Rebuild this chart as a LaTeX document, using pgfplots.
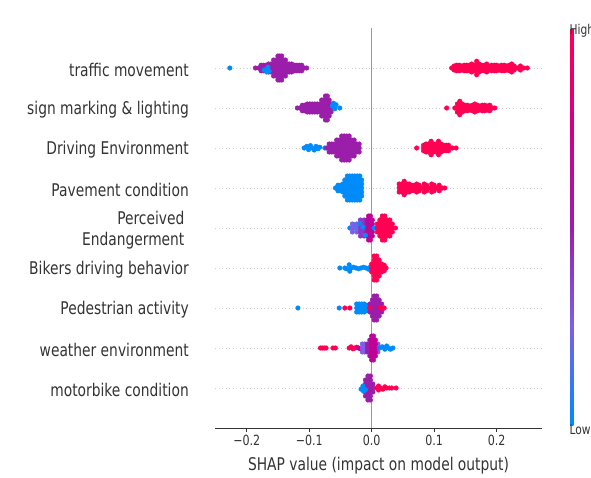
\documentclass[border=0pt]{standalone}
\usepackage{fontspec}
\setmainfont{DejaVu Sans}[FakeStretch=0.79]
\usepackage{pgfplots}
\pgfplotsset{compat=1.18}
\usetikzlibrary{calc}
\definecolor{c333}{HTML}{333333}
\definecolor{gridc}{HTML}{CCCCCC}
\definecolor{zeroc}{HTML}{999999}
\definecolor{shapBlue}{RGB}{0,139,251}
\definecolor{shapLav}{RGB}{125,95,230}
\definecolor{shapVio}{RGB}{140,55,200}
\definecolor{shapPurple}{RGB}{155,30,170}
\definecolor{shapMag}{RGB}{195,0,150}
\definecolor{shapRed}{RGB}{255,0,82}
\pgfplotsset{dot/.style={only marks, mark=*, mark size=2.3pt, line width=0.4pt}}
\begin{document}
\begin{tikzpicture}
\useasboundingbox (0,0) rectangle (591pt,477pt);
\begin{axis}[
  name=main,
  at={(215pt,49pt)}, anchor=south west,
  width=327pt, height=400pt, scale only axis,
  xmin=-0.2507, xmax=0.2725, ymin=0, ymax=10,
  axis x line*=bottom, axis y line*=left,
  y axis line style={draw=none},
  x axis line style={c333, line width=0.8pt},
  xtick={-0.2,-0.1,0,0.1,0.2},
  xticklabels={−0.2,−0.1,0.0,0.1,0.2},
  xtick style={c333, line width=0.8pt},
  major tick length=4pt, tick align=outside,
  ytick={1,2,3,4,5,6,7,8,9},
  yticklabels={motorbike condition, weather environment, Pedestrian activity, Bikers driving behavior, {Perceived\hspace*{4.4pt}\\Endangerment\hspace*{4.4pt}}, Pavement condition, Driving Environment, sign marking \& lighting, traffic movement},
  ytick style={draw=none},
  ymajorgrids, grid style={gridc, line width=0.7pt, dash pattern=on 1pt off 2.5pt},
  xticklabel style={font=\fontsize{14}{16}\selectfont, text=c333},
  yticklabel style={font=\fontsize{17.5}{20.5}\selectfont, text=c333, anchor=east, inner sep=0pt, xshift=-22pt, yshift=-2pt, align=right},
  xlabel={SHAP value (impact on model output)},
  xlabel style={font=\fontsize{17.5}{20}\selectfont, text=c333, at={(axis description cs:0.5,0)}, anchor=center, yshift=-37.5pt},
  colormap={shap}{rgb255(0cm)=(0,139,251); rgb255(1cm)=(125,95,230); rgb255(2cm)=(155,30,170); rgb255(3cm)=(205,0,140); rgb255(4cm)=(255,0,82)},
  point meta min=0, point meta max=1,
  colorbar,
  colorbar style={at={($(parent axis.south east)+(19.5pt,3pt)$)}, anchor=south west, width=3.3pt, height=397pt, scale only axis, hide axis},
]
\addplot[zeroc, line width=1.2pt] coordinates {(0,0) (0,10)};
% ---- traffic movement (9)
\addplot[dot, shapPurple] coordinates {
(-0.186,9)(-0.181,9)
(-0.177,9)(-0.177,8.93)(-0.177,9.07)
(-0.173,9)(-0.173,8.93)(-0.173,9.07)
(-0.169,9)(-0.169,8.93)(-0.169,9.07)
(-0.165,9)(-0.165,8.9)(-0.165,9.1)
(-0.161,9)(-0.161,8.9)(-0.161,9.1)
(-0.157,9)(-0.157,8.9)(-0.157,9.1)(-0.157,8.8)(-0.157,9.2)
(-0.153,9)(-0.153,8.9)(-0.153,9.1)(-0.153,8.8)(-0.153,9.2)
(-0.150,9)(-0.150,8.9)(-0.150,9.1)(-0.150,8.8)(-0.150,9.2)(-0.150,8.7)(-0.150,9.3)
(-0.147,9)(-0.147,8.9)(-0.147,9.1)(-0.147,8.8)(-0.147,9.2)(-0.147,8.7)(-0.147,9.3)
(-0.144,9)(-0.144,8.9)(-0.144,9.1)(-0.144,8.8)(-0.144,9.2)(-0.144,8.7)(-0.144,9.3)
(-0.141,9)(-0.141,8.9)(-0.141,9.1)(-0.141,8.8)(-0.141,9.2)
(-0.138,9)(-0.138,8.9)(-0.138,9.1)(-0.138,8.8)(-0.138,9.2)
(-0.135,9)(-0.135,8.9)(-0.135,9.1)
(-0.132,9)(-0.132,8.9)(-0.132,9.1)
(-0.128,9)(-0.128,8.9)(-0.128,9.1)
(-0.124,9)(-0.124,8.93)(-0.124,9.07)
(-0.120,9)(-0.120,8.93)(-0.120,9.07)
(-0.116,9)(-0.116,8.93)(-0.116,9.07)
(-0.112,9)(-0.112,8.93)(-0.112,9.07)
(-0.108,9)(-0.104,9)};
\addplot[dot, shapBlue] coordinates {(-0.227,9)(-0.172,8.95)(-0.168,8.9)(-0.166,9.02)(-0.164,8.92)};
\addplot[dot, shapRed] coordinates {
(0.128,9)
(0.132,9)(0.132,8.95)(0.132,9.05)
(0.136,9)(0.136,8.93)(0.136,9.07)
(0.140,9)(0.140,8.93)(0.140,9.07)
(0.144,9)(0.144,8.95)(0.144,9.05)
(0.148,9)(0.148,8.93)(0.148,9.07)
(0.152,9)(0.152,8.93)(0.152,9.07)
(0.156,9)(0.156,8.93)(0.156,9.07)
(0.160,9)(0.160,8.9)(0.160,9.1)
(0.164,9)(0.164,8.93)(0.164,9.07)
(0.168,9)(0.168,8.9)(0.168,9.1)(0.168,8.83)(0.168,9.17)
(0.172,9)(0.172,8.9)(0.172,9.1)
(0.176,9)(0.176,8.93)(0.176,9.07)
(0.180,9)(0.180,8.93)(0.180,9.07)
(0.184,9)(0.184,8.9)(0.184,9.1)
(0.188,9)(0.188,8.95)(0.188,9.05)
(0.192,9)(0.192,8.93)(0.192,9.07)
(0.196,9)(0.196,8.93)(0.196,9.07)
(0.200,9)(0.200,8.93)(0.200,9.07)
(0.204,9)(0.204,8.95)(0.204,9.05)
(0.208,9)(0.208,8.93)(0.208,9.07)
(0.212,9)(0.212,8.93)(0.212,9.07)
(0.216,9)(0.216,8.95)(0.216,9.05)
(0.220,9)(0.220,8.93)(0.220,9.07)
(0.224,9)(0.224,8.9)(0.224,9.1)
(0.228,9)(0.228,8.95)(0.228,9.05)
(0.233,9)
(0.238,9)(0.238,8.95)(0.238,9.05)
(0.243,9)(0.249,9)};
% ---- sign marking & lighting (8)
\addplot[dot, shapPurple] coordinates {
(-0.119,8)(-0.115,8)
(-0.111,8)(-0.111,7.93)(-0.111,8.07)
(-0.107,8)(-0.107,7.93)(-0.107,8.07)
(-0.103,8)(-0.103,7.9)(-0.103,8.1)
(-0.099,8)(-0.099,7.9)(-0.099,8.1)
(-0.095,8)(-0.095,7.9)(-0.095,8.1)
(-0.091,8)(-0.091,7.9)(-0.091,8.1)
(-0.087,8)(-0.087,7.9)(-0.087,8.1)
(-0.083,8)(-0.083,7.9)(-0.083,8.1)
(-0.080,8)(-0.080,7.9)(-0.080,8.1)(-0.080,7.8)(-0.080,8.2)
(-0.077,8)(-0.077,7.9)(-0.077,8.1)(-0.077,7.8)(-0.077,8.2)
(-0.074,8)(-0.074,7.9)(-0.074,8.1)(-0.074,7.8)(-0.074,8.2)(-0.074,7.7)(-0.074,8.3)
(-0.071,8)(-0.071,7.9)(-0.071,8.1)(-0.071,7.8)(-0.071,8.2)(-0.071,7.7)(-0.071,8.3)
(-0.068,8)(-0.068,7.9)(-0.068,8.1)(-0.068,7.8)(-0.068,8.2)
(-0.065,8)(-0.065,7.9)(-0.065,8.1)};
\addplot[dot, shapBlue] coordinates {(-0.063,8.05)(-0.061,8.12)(-0.059,7.98)(-0.057,8.08)(-0.051,8)};
\addplot[dot, shapRed] coordinates {
(0.120,8)(0.133,8)
(0.137,8)(0.137,7.9)(0.137,8.1)
(0.141,8)(0.141,7.9)(0.141,8.1)(0.141,7.83)(0.141,8.17)
(0.145,8)(0.145,7.9)(0.145,8.1)
(0.149,8)(0.149,7.93)(0.149,8.07)
(0.153,8)(0.153,7.93)(0.153,8.07)
(0.157,8)(0.157,7.95)(0.157,8.05)
(0.161,8)(0.161,7.93)(0.161,8.07)
(0.165,8)(0.165,7.9)(0.165,8.1)
(0.169,8)(0.169,7.93)(0.169,8.07)
(0.173,8)(0.173,7.95)(0.173,8.05)
(0.177,8)(0.177,7.93)(0.177,8.07)
(0.181,8)(0.181,7.93)(0.181,8.07)
(0.185,8)(0.185,7.95)(0.185,8.05)
(0.189,8)(0.189,7.93)(0.189,8.07)
(0.193,8)(0.197,8)};
% ---- Driving Environment (7)
\addplot[dot, shapBlue] coordinates {(-0.108,7)(-0.104,7.04)(-0.101,6.96)(-0.098,7.06)(-0.095,7)(-0.092,6.95)(-0.089,7.04)(-0.086,6.98)(-0.083,7.02)(-0.075,7)};
\addplot[dot, shapPurple] coordinates {
(-0.072,7)
(-0.068,7)(-0.068,6.9)(-0.068,7.1)
(-0.064,7)(-0.064,6.9)(-0.064,7.1)
(-0.060,7)(-0.060,6.9)(-0.060,7.1)
(-0.056,7)(-0.056,6.9)(-0.056,7.1)(-0.056,6.8)(-0.056,7.2)
(-0.052,7)(-0.052,6.9)(-0.052,7.1)(-0.052,6.8)(-0.052,7.2)
(-0.048,7)(-0.048,6.9)(-0.048,7.1)(-0.048,6.8)(-0.048,7.2)(-0.048,6.7)(-0.048,7.3)
(-0.044,7)(-0.044,6.9)(-0.044,7.1)(-0.044,6.8)(-0.044,7.2)(-0.044,6.7)(-0.044,7.3)
(-0.040,7)(-0.040,6.9)(-0.040,7.1)(-0.040,6.8)(-0.040,7.2)(-0.040,6.7)(-0.040,7.3)
(-0.036,7)(-0.036,6.9)(-0.036,7.1)(-0.036,6.8)(-0.036,7.2)(-0.036,6.7)(-0.036,7.3)
(-0.032,7)(-0.032,6.9)(-0.032,7.1)(-0.032,6.8)(-0.032,7.2)
(-0.028,7)(-0.028,6.9)(-0.028,7.1)(-0.028,6.8)(-0.028,7.2)
(-0.024,7)(-0.024,6.9)(-0.024,7.1)
(-0.020,7)(-0.020,6.9)(-0.020,7.1)};
\addplot[dot, shapRed] coordinates {
(0.072,7)
(0.083,7)(0.083,6.93)(0.083,7.07)
(0.087,7)(0.087,6.9)(0.087,7.1)
(0.091,7)(0.091,6.9)(0.091,7.1)
(0.095,7)(0.095,6.9)(0.095,7.1)(0.095,6.83)(0.095,7.17)
(0.099,7)(0.099,6.9)(0.099,7.1)
(0.103,7)(0.103,6.9)(0.103,7.1)
(0.107,7)(0.107,6.9)(0.107,7.1)(0.107,6.83)(0.107,7.17)
(0.111,7)(0.111,6.9)(0.111,7.1)
(0.115,7)(0.115,6.93)(0.115,7.07)
(0.119,7)(0.119,6.93)(0.119,7.07)
(0.123,7)(0.123,6.93)(0.123,7.07)
(0.129,7)(0.135,7)};
% ---- Pavement condition (6)
\addplot[dot, shapBlue] coordinates {
(-0.058,6)
(-0.054,6)(-0.054,5.93)(-0.054,6.07)
(-0.050,6)(-0.050,5.93)(-0.050,6.07)
(-0.046,6)(-0.046,5.9)(-0.046,6.1)
(-0.043,6)(-0.043,5.9)(-0.043,6.1)(-0.043,5.8)(-0.043,6.2)
(-0.039,6)(-0.039,5.9)(-0.039,6.1)(-0.039,5.8)(-0.039,6.2)(-0.039,5.7)(-0.039,6.3)
(-0.035,6)(-0.035,5.9)(-0.035,6.1)(-0.035,5.8)(-0.035,6.2)(-0.035,5.7)(-0.035,6.3)
(-0.031,6)(-0.031,5.9)(-0.031,6.1)(-0.031,5.8)(-0.031,6.2)(-0.031,5.7)(-0.031,6.3)
(-0.027,6)(-0.027,5.9)(-0.027,6.1)(-0.027,5.8)(-0.027,6.2)(-0.027,5.7)(-0.027,6.3)
(-0.023,6)(-0.023,5.9)(-0.023,6.1)(-0.023,5.8)(-0.023,6.2)(-0.023,5.7)(-0.023,6.3)
(-0.019,6)(-0.019,5.9)(-0.019,6.1)(-0.019,5.8)(-0.019,6.2)(-0.019,5.7)(-0.019,6.3)
(-0.016,6)(-0.016,5.9)(-0.016,6.1)(-0.016,5.8)(-0.016,6.2)};
\addplot[dot, shapRed] coordinates {
(0.044,6)(0.044,5.9)(0.044,6.1)
(0.048,6)(0.048,5.9)(0.048,6.1)
(0.052,6)(0.052,5.9)(0.052,6.1)(0.052,5.83)(0.052,6.17)
(0.056,6)(0.056,5.9)(0.056,6.1)
(0.060,6)(0.060,5.9)(0.060,6.1)
(0.064,6)(0.064,5.93)(0.064,6.07)
(0.068,6)(0.068,5.93)(0.068,6.07)
(0.072,6)(0.072,5.9)(0.072,6.1)
(0.076,6)(0.076,5.93)(0.076,6.07)
(0.080,6)
(0.084,6)(0.084,5.9)(0.084,6.1)
(0.088,6)(0.088,5.93)(0.088,6.07)
(0.092,6)
(0.096,6)(0.096,5.9)(0.096,6.1)
(0.100,6)(0.100,5.93)(0.100,6.07)
(0.104,6)
(0.108,6)(0.108,5.93)(0.108,6.07)
(0.113,6)(0.117,6)};
% ---- Perceived Endangerment (5)
\addplot[dot, shapBlue] coordinates {(-0.035,5)(-0.028,5)(-0.027,5.08)(-0.021,5)(-0.021,4.93)};
\addplot[dot, shapLav] coordinates {(-0.031,5)(-0.031,4.9)(-0.031,5.1)(-0.024,5)(-0.024,4.9)(-0.024,5.1)(-0.015,5)(-0.015,4.9)(-0.015,5.1)};
\addplot[dot, shapVio] coordinates {(-0.018,5)(-0.018,4.9)(-0.018,5.1)(-0.018,4.8)(-0.018,5.2)(-0.012,5)(-0.012,4.9)(-0.012,5.1)(-0.012,4.8)(-0.012,5.2)};
\addplot[dot, shapPurple] coordinates {(-0.008,5)(-0.008,4.9)(-0.008,5.1)(-0.008,4.8)(-0.008,5.2)};
\addplot[dot, shapMag] coordinates {
(-0.005,5)(-0.005,4.9)(-0.005,5.1)(-0.005,4.8)(-0.005,5.2)(-0.005,4.7)(-0.005,5.3)
(-0.002,5)(-0.002,4.9)(-0.002,5.1)(-0.002,4.8)(-0.002,5.2)(-0.002,4.7)(-0.002,5.3)
(0.001,5)(0.001,4.9)(0.001,5.1)(0.001,4.8)(0.001,5.2)};
\addplot[dot, shapBlue] coordinates {(0.004,5)(-0.010,4.82)(-0.014,5.02)(-0.019,5.12)};
\addplot[dot, shapRed] coordinates {
(0.009,5)(0.009,4.9)(0.009,5.1)
(0.013,5)(0.013,4.9)(0.013,5.1)(0.013,4.8)(0.013,5.2)
(0.017,5)(0.017,4.9)(0.017,5.1)(0.017,4.8)(0.017,5.2)(0.017,4.7)(0.017,5.3)
(0.021,5)(0.021,4.9)(0.021,5.1)(0.021,4.8)(0.021,5.2)(0.021,4.7)(0.021,5.3)
(0.025,5)(0.025,4.9)(0.025,5.1)(0.025,4.8)(0.025,5.2)
(0.029,5)(0.029,4.9)(0.029,5.1)(0.029,4.8)(0.029,5.2)
(0.033,5)(0.033,4.9)(0.033,5.1)
(0.038,5)};
% ---- Bikers driving behavior (4)
\addplot[dot, shapBlue] coordinates {(-0.051,4)(-0.043,4)(-0.040,3.98)(-0.036,4.08)(-0.035,3.92)(-0.033,4)(-0.029,4.02)(-0.025,4)(-0.021,3.98)(-0.017,4)(-0.013,4.02)(-0.009,4)(-0.005,3.97)(-0.002,4.03)};
\addplot[dot, shapRed] coordinates {
(0.000,4)(0.000,3.9)(0.000,4.1)
(0.004,4)(0.004,3.9)(0.004,4.1)(0.004,3.8)(0.004,4.2)(0.004,3.7)(0.004,4.3)
(0.008,4)(0.008,3.9)(0.008,4.1)(0.008,3.8)(0.008,4.2)(0.008,3.7)(0.008,4.3)
(0.012,4)(0.012,3.9)(0.012,4.1)(0.012,3.8)(0.012,4.2)
(0.016,4)(0.016,3.9)(0.016,4.1)
(0.020,4)(0.020,3.93)(0.020,4.07)
(0.023,4)};
% ---- Pedestrian activity (3)
\addplot[dot, shapBlue] coordinates {
(-0.118,3)(-0.052,3)
(-0.024,3)(-0.024,2.9)(-0.024,3.1)
(-0.020,3)(-0.020,2.9)(-0.020,3.1)
(-0.016,3)(-0.016,2.9)(-0.016,3.1)
(-0.012,3)(-0.012,2.9)(-0.012,3.1)
(-0.008,3)(-0.008,2.93)(-0.008,3.07)};
\addplot[dot, shapPurple] coordinates {
(-0.003,3)(-0.003,2.9)(-0.003,3.1)
(0.001,3)(0.001,2.9)(0.001,3.1)(0.001,2.8)(0.001,3.2)
(0.004,3)(0.004,2.9)(0.004,3.1)(0.004,2.8)(0.004,3.2)(0.004,2.7)(0.004,3.3)
(0.008,3)(0.008,2.9)(0.008,3.1)(0.008,2.8)(0.008,3.2)(0.008,2.7)(0.008,3.3)
(0.012,3)(0.012,2.9)(0.012,3.1)(0.012,2.8)(0.012,3.2)
(0.016,3)(0.016,2.9)(0.016,3.1)};
\addplot[dot, shapRed] coordinates {(-0.043,3)(-0.035,3)(-0.003,3)(0.013,3.02)(0.017,2.98)(0.020,3)};
% ---- weather environment (2)
\addplot[dot, shapRed] coordinates {(-0.082,2)(-0.079,2)(-0.076,2)(-0.073,2)(-0.062,2)(-0.058,2)(-0.036,2)(-0.033,2.03)(-0.030,1.98)(-0.027,2)(-0.024,2.02)};
\addplot[dot, shapMag] coordinates {(-0.021,2)(-0.018,1.98)};
\addplot[dot, shapLav] coordinates {
(-0.015,2)(-0.015,1.9)(-0.015,2.1)
(-0.011,2)(-0.011,1.9)(-0.011,2.1)
(0.010,2)(0.010,1.9)(0.010,2.1)};
\addplot[dot, shapPurple] coordinates {
(-0.007,2)(-0.007,1.9)(-0.007,2.1)
(-0.003,2)(-0.003,1.9)(-0.003,2.1)(-0.003,1.8)(-0.003,2.2)
(0.003,2)(0.003,1.9)(0.003,2.1)(0.003,1.8)(0.003,2.2)(0.003,1.7)(0.003,2.3)};
\addplot[dot, shapMag] coordinates {
(0.000,2)(0.000,1.9)(0.000,2.1)(0.000,1.8)(0.000,2.2)(0.000,1.7)(0.000,2.3)
(0.006,2)(0.006,1.9)(0.006,2.1)(0.006,1.8)(0.006,2.2)};
\addplot[dot, shapBlue] coordinates {(0.013,2)(0.017,2.03)(0.021,1.97)(0.024,2.05)(0.027,2)(0.030,1.97)(0.034,2)};
% ---- motorbike condition (1)
\addplot[dot, shapPurple] coordinates {
(-0.010,1)(-0.010,0.9)(-0.010,1.1)(-0.010,0.8)(-0.010,1.2)
(-0.006,1)(-0.006,0.9)(-0.006,1.1)(-0.006,0.8)(-0.006,1.2)(-0.006,0.7)(-0.006,1.3)
(-0.002,1)(-0.002,0.9)(-0.002,1.1)(-0.002,0.8)(-0.002,1.2)(-0.002,0.7)(-0.002,1.3)
(0.002,1)(0.002,0.9)(0.002,1.1)};
\addplot[dot, shapBlue] coordinates {(-0.017,0.97)(-0.014,1.05)(-0.013,0.92)(-0.010,0.96)};
\addplot[dot, shapRed] coordinates {(0.008,1)(0.011,1.05)(0.011,0.95)(0.014,1)(0.018,0.97)(0.021,1.03)(0.024,1)(0.028,1)(0.032,1)(0.039,1)};
\end{axis}
\node[anchor=west, inner sep=0pt, text=c333, font=\fontsize{13.5}{16}\selectfont] at (569.5pt,446pt) {High};
\node[anchor=west, inner sep=0pt, text=c333, font=\fontsize{13.5}{16}\selectfont] at (569.5pt,47pt) {Low};
\end{tikzpicture}
\end{document}
